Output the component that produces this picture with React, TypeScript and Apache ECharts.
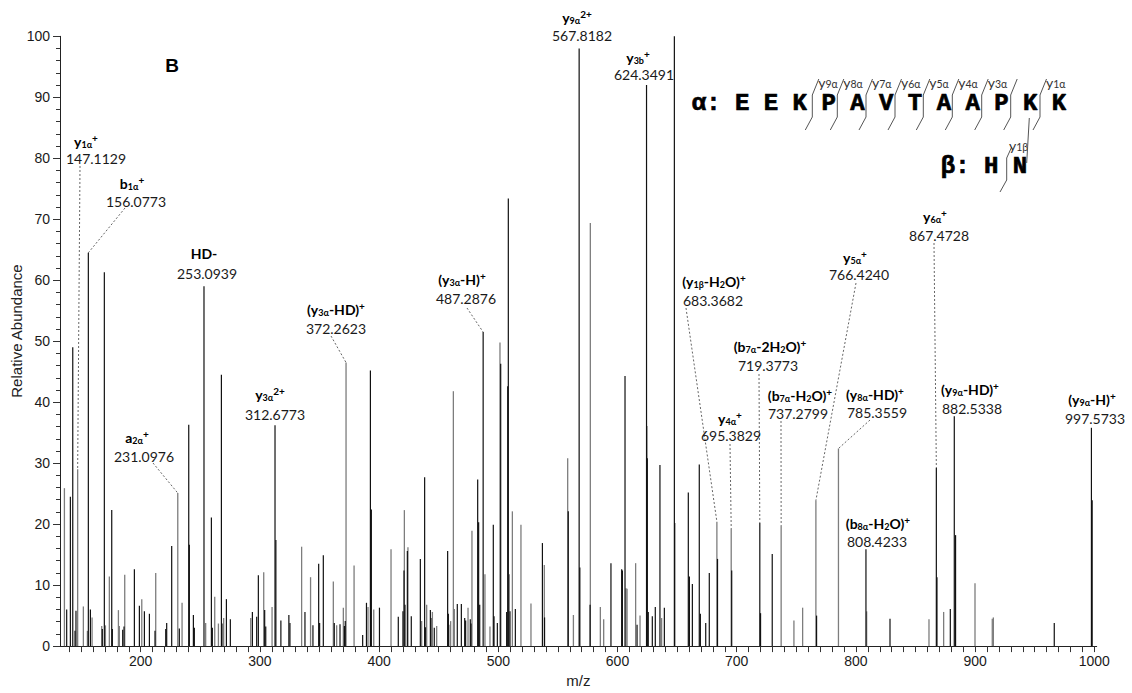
import React, { useEffect, useRef } from 'react';
import * as echarts from 'echarts';

// Fragment peaks drawn in black: [m/z, relative abundance]
const darkPeaks: [number, number][] = [
  [137.9, 6.0], [141.0, 24.5], [143.0, 49.0], [144.9, 2.5], [145.7, 5.8],
  [156.0773, 64.5], [157.8, 6.0], [167.8, 2.8], [169.5, 61.3], [175.7, 22.3],
  [176.2, 2.8], [184.9, 2.7], [186.0, 3.2], [194.7, 12.6], [198.9, 6.6],
  [203.1, 5.7], [207.3, 5.3], [212.0, 2.5], [221.0, 2.8], [221.8, 3.8],
  [226.0, 16.4], [232.4, 2.9], [240.3, 36.3], [240.8, 16.6], [244.2, 5.1],
  [245.0, 3.0], [253.0939, 59.0], [259.3, 21.1], [260.1, 3.0], [267.7, 44.5],
  [268.2, 3.7], [271.9, 7.7], [275.2, 4.4], [293.7, 5.6], [297.3, 4.8],
  [298.7, 11.6], [304.0, 5.9], [304.9, 3.2], [312.6773, 36.2], [313.4, 17.4],
  [317.6, 4.2], [324.3, 5.1], [325.2, 3.8], [337.8, 5.6], [344.5, 3.4],
  [349.3, 13.5], [350.1, 3.8], [353.2, 14.9], [362.4, 3.8], [367.2, 3.6],
  [370.9, 3.3], [371.6, 4.1], [386.2, 1.8], [389.4, 7.1], [392.7, 45.2],
  [393.5, 22.4], [400.3, 6.3], [416.1, 4.8], [420.0, 5.7], [420.9, 12.4],
  [421.7, 6.8], [423.7, 15.6], [427.0, 4.9], [434.6, 14.3], [438.2, 27.7],
  [438.8, 3.1], [443.0, 5.9], [443.5, 4.6], [446.3, 3.0], [457.5, 15.6],
  [458.1, 5.3], [465.6, 6.9], [469.0, 6.9], [471.8, 4.6], [472.6, 4.2],
  [476.5, 4.4], [477.1, 3.7], [482.7, 27.3], [483.5, 20.3], [484.4, 6.8],
  [487.2876, 51.5], [495.8, 19.9], [496.4, 4.9], [499.2, 3.8], [502.0, 46.3],
  [507.0, 5.6], [507.9, 42.6], [508.4, 73.4], [509.8, 5.7], [514.3, 6.1],
  [537.0, 16.9], [538.8, 4.7], [558.7, 22.1], [567.8182, 98.0], [568.4, 12.9],
  [577.0, 6.8], [594.5, 13.6], [603.5, 12.6], [604.1, 12.4], [606.3, 44.3],
  [616.4, 3.5], [624.3491, 92.0], [625.0, 30.8], [625.8, 5.6], [629.2, 4.9],
  [631.7, 6.4], [635.6, 29.7], [639.3, 6.3], [647.7, 100.0], [648.0, 20.2],
  [659.4, 25.2], [660.3, 11.4], [662.8, 10.2], [668.6, 29.8], [669.5, 5.3],
  [674.0, 3.8], [677.0, 12.0], [683.9, 14.3], [695.8, 12.4], [719.3773, 20.2],
  [720.0, 5.4], [729.8, 15.1], [767.0, 5.0], [808.4233, 15.9], [828.6, 4.5],
  [867.4728, 29.2], [868.0, 11.3], [879.2, 6.1], [882.5338, 37.7], [883.6, 18.2],
  [966.4, 3.8], [997.5733, 35.8], [998.2, 23.9],
];

// Fragment peaks drawn in grey: [m/z, relative abundance]
const greyPeaks: [number, number][] = [
  [136.0, 25.9], [147.1129, 29.0], [151.9, 6.5], [155.3, 2.5], [159.2, 4.7],
  [167.3, 3.3], [170.4, 3.4], [173.7, 11.4], [181.3, 5.9], [182.1, 3.3],
  [186.6, 11.7], [200.9, 7.7], [212.6, 12.0], [231.0976, 25.1], [234.7, 7.1],
  [254.5, 3.8], [262.1, 8.1], [265.2, 3.7], [269.6, 4.6], [292.3, 4.6],
  [303.2, 12.1], [310.2, 6.4], [335.0, 16.3], [342.5, 11.3], [361.6, 10.6],
  [364.4, 3.4], [370.0, 6.3], [372.2623, 46.5], [379.0, 13.2], [390.7, 6.4],
  [395.5, 6.0], [410.0, 15.9], [421.2, 22.3], [424.2, 16.2], [435.7, 4.1],
  [439.9, 6.8], [444.7, 5.6], [448.3, 3.3], [458.6, 3.5], [460.0, 4.1],
  [462.3, 41.8], [463.1, 6.1], [474.6, 6.3], [477.9, 18.9], [488.8, 11.8],
  [493.0, 3.2], [501.4, 49.8], [509.2, 11.8], [511.8, 22.1], [519.0, 19.9],
  [527.4, 7.0], [538.6, 13.3], [558.2, 30.8], [563.0, 5.1], [577.2, 69.4],
  [585.6, 6.4], [588.4, 4.4], [607.1, 9.5], [608.0, 9.4], [615.2, 13.6],
  [618.9, 5.0], [624.7, 36.1], [637.0, 4.6], [683.3682, 20.4], [695.3829, 19.2],
  [737.2799, 19.7], [748.0, 4.2], [755.3, 6.3], [766.424, 23.9], [785.3559, 32.4],
  [809.0, 5.7], [861.3, 4.4], [873.6, 5.6], [899.9, 10.3], [914.4, 4.5],
  [915.3, 4.7],
];

const xLabelValues = [200, 300, 400, 500, 600, 700, 800, 900, 1000];
const xTickValues: number[] = [];
for (let t = 140; t <= 1000; t += 10) xTickValues.push(t);
const X_MIN = 132.3;
const X_MAX = 1002;

const LABEL_FONT = 'Lato, "Noto Sans", "DejaVu Sans", sans-serif';
const AXIS_FONT = '"Liberation Sans", Arial, sans-serif';
const SEQ_FONT = '"Liberation Mono", "DejaVu Sans Mono", monospace';

// rich-text helpers for ion names
const bold = (t: string) => `{b|${t}}`;
const low = (t: string) => `{s|${t}}`;
const high = (t: string) => `{p|${t}}`;

type Annotation = {
  ion: string;
  mz: string;
  ionAt: [number, number];
  mzAt: [number, number];
  leader?: [number, number];
};

const annotations: Annotation[] = [
  { ion: bold('y') + low('1α') + high('+'), mz: '147.1129', ionAt: [86, 141], mzAt: [96, 158], leader: [80, 166] },
  { ion: bold('b') + low('1α') + high('+'), mz: '156.0773', ionAt: [132, 183], mzAt: [136, 201], leader: [125, 208] },
  { ion: bold('HD-'), mz: '253.0939', ionAt: [204, 253], mzAt: [207, 273] },
  { ion: bold('(y') + low('3α') + bold('-HD)') + high('+'), mz: '372.2623', ionAt: [336, 309], mzAt: [336, 328], leader: [331, 336] },
  { ion: bold('a') + low('2α') + high('+'), mz: '231.0976', ionAt: [137, 437], mzAt: [144, 456], leader: [153, 463] },
  { ion: bold('y') + low('3α') + high('2+'), mz: '312.6773', ionAt: [270, 394], mzAt: [275, 414] },
  { ion: bold('(y') + low('3α') + bold('-H)') + high('+'), mz: '487.2876', ionAt: [462, 279], mzAt: [466, 298], leader: [467, 308] },
  { ion: bold('y') + low('9α') + high('2+'), mz: '567.8182', ionAt: [577, 17], mzAt: [582, 35] },
  { ion: bold('y') + low('3b') + high('+'), mz: '624.3491', ionAt: [638, 57], mzAt: [644, 74] },
  { ion: bold('(y') + low('1β') + bold('-H') + low('2') + bold('O)') + high('+'), mz: '683.3682', ionAt: [714, 281], mzAt: [713, 300], leader: [686, 308] },
  { ion: bold('(b') + low('7α') + bold('-2H') + low('2') + bold('O)') + high('+'), mz: '719.3773', ionAt: [770, 346], mzAt: [768, 365], leader: [759, 374] },
  { ion: bold('y') + low('4α') + high('+'), mz: '695.3829', ionAt: [730, 418], mzAt: [731, 435], leader: [730, 444] },
  { ion: bold('(b') + low('7α') + bold('-H') + low('2') + bold('O)') + high('+'), mz: '737.2799', ionAt: [800, 395], mzAt: [798, 413], leader: [781, 421] },
  { ion: bold('(y') + low('8α') + bold('-HD)') + high('+'), mz: '785.3559', ionAt: [875, 394], mzAt: [877, 412], leader: [870, 420] },
  { ion: bold('y') + low('5α') + high('+'), mz: '766.4240', ionAt: [855, 257], mzAt: [859, 274], leader: [856, 283] },
  { ion: bold('(b') + low('8α') + bold('-H') + low('2') + bold('O)') + high('+'), mz: '808.4233', ionAt: [878, 523], mzAt: [877, 541] },
  { ion: bold('y') + low('6α') + high('+'), mz: '867.4728', ionAt: [935, 216], mzAt: [939, 235], leader: [934, 243] },
  { ion: bold('(y') + low('9α') + bold('-HD)') + high('+'), mz: '882.5338', ionAt: [970, 389], mzAt: [972, 408] },
  { ion: bold('(y') + low('9α') + bold('-H)') + high('+'), mz: '997.5733', ionAt: [1092, 399], mzAt: [1095, 418] },
];

// cross-linked peptide sequence with its y-ion cleavage marks
const alphaChain = 'α: E E K P A V T A A P K K';
const betaChain = 'β: H N';
const alphaCuts: { x: number; label: string }[] = [
  { x: 812.3, label: '9α' }, { x: 837.3, label: '8α' }, { x: 866, label: '7α' },
  { x: 895, label: '6α' }, { x: 923.3, label: '5α' }, { x: 952.3, label: '4α' },
  { x: 981.7, label: '3α' }, { x: 1010.7, label: '' }, { x: 1040, label: '1α' },
];

const ionRich = {
  b: { fontFamily: LABEL_FONT, fontWeight: 'bold', fontSize: 14, lineHeight: 16, fill: '#000', verticalAlign: 'middle' },
  s: { fontFamily: LABEL_FONT, fontWeight: 'bold', fontSize: 9, lineHeight: 8, fill: '#000', verticalAlign: 'bottom' },
  p: { fontFamily: LABEL_FONT, fontWeight: 'bold', fontSize: 10, lineHeight: 8, fill: '#000', verticalAlign: 'top' },
};

const cutRich = {
  m: { fontFamily: LABEL_FONT, fontSize: 14, lineHeight: 14, fill: '#333', verticalAlign: 'middle' },
  s: { fontFamily: LABEL_FONT, fontSize: 10.5, lineHeight: 9, fill: '#333', verticalAlign: 'bottom' },
};

function textEl(x: number, y: number, style: any, rotation = 0) {
  return {
    type: 'text',
    x,
    y,
    rotation,
    silent: true,
    style: {
      align: 'center',
      verticalAlign: 'middle',
      textAlign: 'center',
      textVerticalAlign: 'middle',
      ...style,
    },
  };
}

function lineEl(x1: number, y1: number, x2: number, y2: number, style: any) {
  return { type: 'line', silent: true, shape: { x1, y1, x2, y2 }, style: { lineWidth: 1, ...style } };
}

function peakSeries(name: string, data: [number, number][], color: string, width: number) {
  return {
    type: 'custom',
    name,
    data,
    encode: { x: 0, y: 1 },
    renderItem: (_params: any, api: any) => {
      const mz = api.value(0);
      const base = api.coord([mz, 0]);
      const top = api.coord([mz, api.value(1)]);
      return {
        type: 'line',
        shape: { x1: base[0], y1: base[1], x2: top[0], y2: top[1] },
        style: { stroke: color, lineWidth: width },
      };
    },
  };
}

function buildGraphics(chart: echarts.ECharts) {
  const all = [...darkPeaks, ...greyPeaks];
  const g: any[] = [];

  g.push(textEl(172, 65, { text: 'B', fontFamily: AXIS_FONT, fontWeight: 'bold', fontSize: 19, fill: '#000' }));
  g.push(textEl(16, 331, { text: 'Relative Abundance', fontFamily: AXIS_FONT, fontSize: 15, fill: '#222' }, Math.PI / 2));

  for (const a of annotations) {
    const mz = Number(a.mz);
    const peak = all.find((p) => Math.abs(p[0] - mz) < 1e-6);
    if (a.leader && peak) {
      const end = chart.convertToPixel({ gridIndex: 0 }, [peak[0], peak[1]]) as number[];
      g.push(lineEl(a.leader[0], a.leader[1], end[0], end[1], { stroke: '#666', lineDash: [2, 2] }));
    }
    g.push(textEl(a.ionAt[0], a.ionAt[1], { text: a.ion, rich: ionRich }));
    g.push(textEl(a.mzAt[0], a.mzAt[1], { text: a.mz, fontFamily: LABEL_FONT, fontSize: 14, lineHeight: 14, fill: '#1a1a1a' }));
  }

  // sequence lines, slightly stroked for a heavier typewriter look
  const seqStyle = {
    fontFamily: SEQ_FONT, fontWeight: 'bold', fontSize: 24, fill: '#000', stroke: '#000', lineWidth: 0.7,
    align: 'left', textAlign: 'left', verticalAlign: 'bottom', textVerticalAlign: 'bottom',
  };
  g.push({ type: 'text', x: 691.8, y: 115, silent: true, style: { text: alphaChain, ...seqStyle } });
  g.push({ type: 'text', x: 940.8, y: 178, silent: true, style: { text: betaChain, ...seqStyle } });

  const markStyle = { stroke: '#555', lineWidth: 1, fill: null };
  for (const c of alphaCuts) {
    g.push({
      type: 'polyline', silent: true,
      shape: { points: [[c.x + 6.5, 79], [c.x, 95], [c.x, 117], [c.x - 7, 130]] },
      style: markStyle,
    });
    if (c.label) {
      g.push({
        type: 'text', x: c.x + 6, y: 82, silent: true,
        style: { text: `{m|y}{s|${c.label}}`, rich: cutRich, align: 'left', textAlign: 'left', verticalAlign: 'middle', textVerticalAlign: 'middle' },
      });
    }
  }
  // β-chain cleavage and the cross-link between the chains
  g.push({
    type: 'polyline', silent: true,
    shape: { points: [[1011.7, 147], [1006.7, 158], [1006.7, 180], [1000, 192]] },
    style: markStyle,
  });
  g.push({
    type: 'text', x: 1009, y: 145, silent: true,
    style: { text: '{m|y}{s|1β}', rich: cutRich, align: 'left', textAlign: 'left', verticalAlign: 'middle', textVerticalAlign: 'middle' },
  });
  g.push(lineEl(1029.3, 118, 1026.7, 163, { stroke: '#555' }));

  return g;
}

export default function App() {
  const ref = useRef<HTMLDivElement>(null);

  useEffect(() => {
    if (!ref.current) return;
    const chart = echarts.init(ref.current, null, { renderer: 'svg' });
    chart.setOption({
      animation: false,
      backgroundColor: '#fff',
      grid: { left: 60, right: 35.3, top: 36.3, bottom: 44.7 },
      xAxis: {
        type: 'value',
        min: X_MIN,
        max: X_MAX,
        name: 'm/z',
        nameLocation: 'middle',
        nameGap: 26,
        nameTextStyle: { fontFamily: AXIS_FONT, fontSize: 15, color: '#222' },
        axisLine: { lineStyle: { color: '#222', width: 1 } },
        axisTick: { customValues: xTickValues, length: 6, lineStyle: { color: '#333' } },
        axisLabel: {
          customValues: xLabelValues,
          fontFamily: AXIS_FONT,
          fontSize: 14,
          color: '#1a1a1a',
          margin: 8,
          formatter: (v: number) => (xLabelValues.includes(v) ? String(v) : ''),
        },
        splitLine: { show: false },
      },
      yAxis: {
        type: 'value',
        min: 0,
        max: 100,
        interval: 10,
        axisLine: { show: true, lineStyle: { color: '#222', width: 1 } },
        axisTick: { show: true, length: 7, lineStyle: { color: '#333' } },
        minorTick: { show: true, splitNumber: 5, length: 4, lineStyle: { color: '#333' } },
        axisLabel: { fontFamily: AXIS_FONT, fontSize: 14, color: '#1a1a1a', margin: 10 },
        splitLine: { show: false },
      },
      series: [
        peakSeries('grey', greyPeaks, '#7d7d7d', 1.3),
        peakSeries('dark', darkPeaks, '#111', 1.2),
      ],
    });
    chart.setOption({ graphic: buildGraphics(chart) });
    return () => chart.dispose();
  }, []);

  return (
    <div
      ref={ref}
      style={{ position: 'absolute', left: 0, top: 0, width: 1132, height: 693 }}
    />
  );
}
